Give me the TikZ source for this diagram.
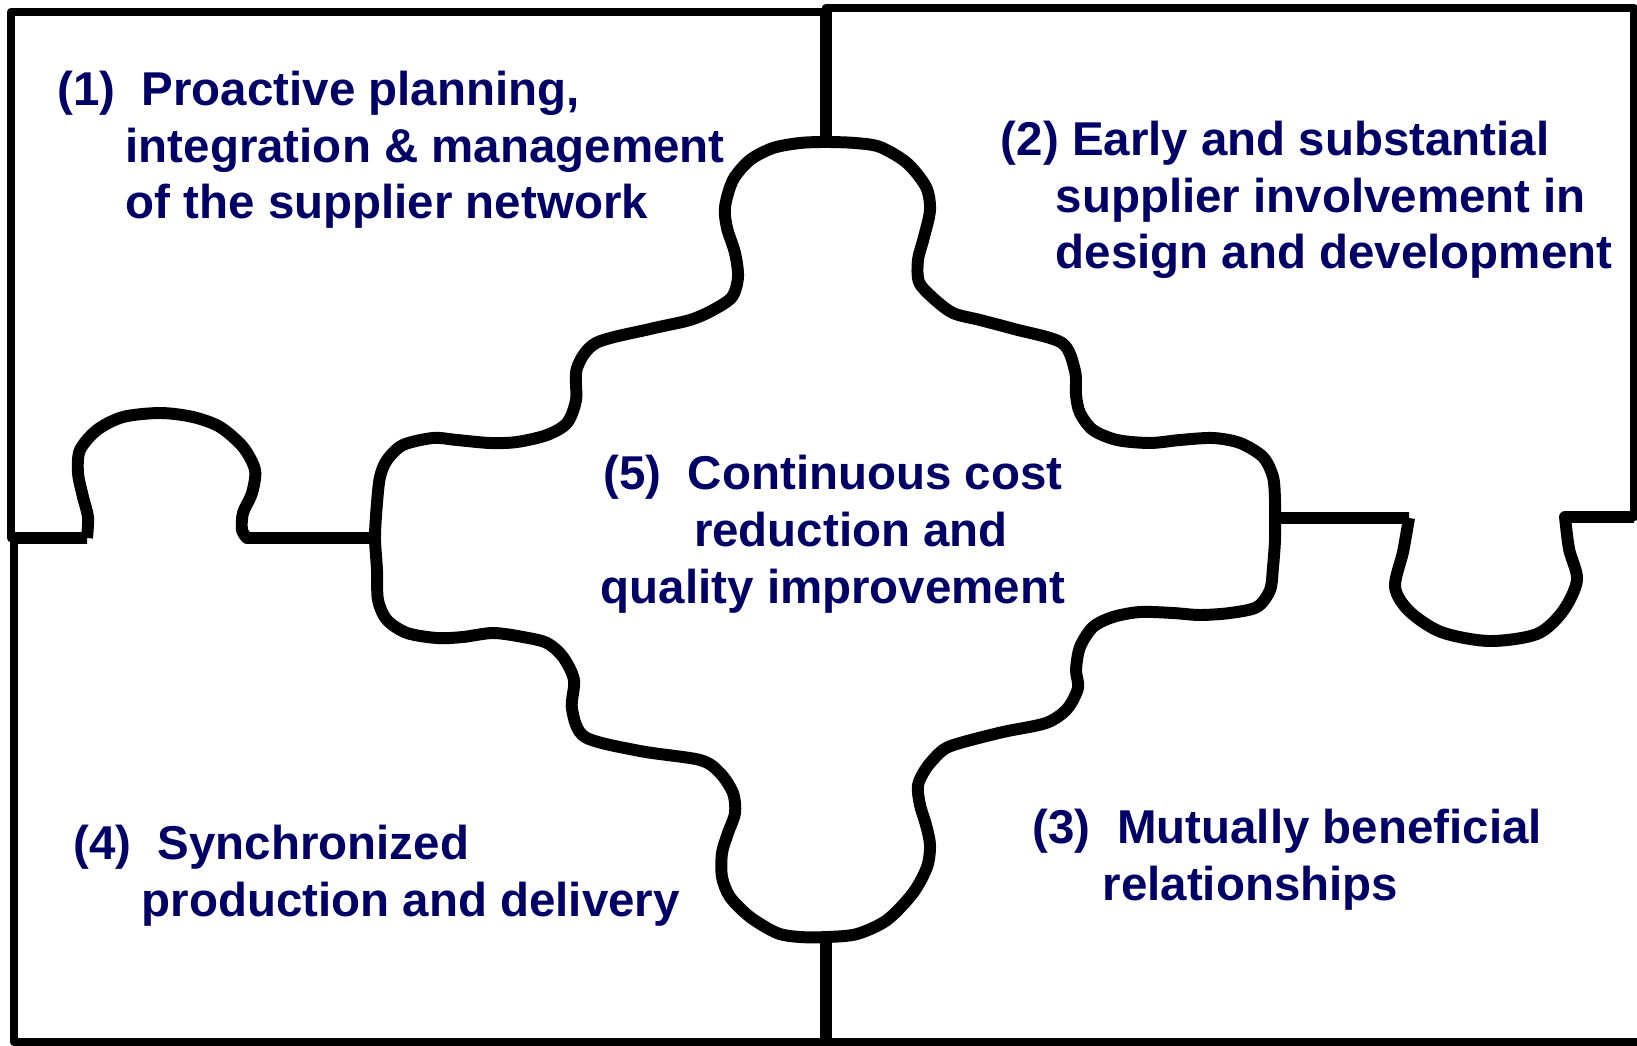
\documentclass[tikz,border=0pt]{standalone}
\usepackage{fontspec}
\setmainfont{Liberation Sans}
\usepackage{tikz}
\usetikzlibrary{positioning}
\definecolor{navytext}{RGB}{0,0,102}

\begin{document}
\begin{tikzpicture}[
		x=0.01cm, y=-0.01cm,
		frameline/.style={line width=2.4pt, line cap=round, line join=round},
		seamline/.style={line width=3.3pt},
		piece/.style={line width=3.4pt, line join=round},
		piecetext/.style={anchor=base west, inner sep=0pt, align=left, text=navytext,
			font=\fontsize{13.5}{16.2}\selectfont\bfseries}
		]
	\useasboundingbox (0,0) rectangle (1637,1046);

	% outer frame of the four corner pieces
	\coordinate (TL) at (11,12);
	\coordinate (TM) at (826,12);
	\coordinate (TMr) at (826,8);
	\coordinate (TR) at (1634,8);
	\coordinate (RM) at (1634,517);
	\coordinate (LM) at (11,538);
	\coordinate (BL) at (14,1042);
	\coordinate (BR) at (1637,1042);
	\coordinate (BM) at (826,1042);

	\draw[frameline] (LM) -- (TL) -- (TM);
	\draw[frameline] (TMr) -- (TR) -- (RM);
	\draw[frameline] (14,538) -- (BL) -- (BR);

	% centre piece
	\draw[piece] plot[smooth cycle, tension=0.5] coordinates {
		(826,142) (855,143) (880,147) (907,163) (926,187) (930,210) (924,237)
		(918,260) (919,282) (933,298) (953,313) (980,320) (1014,329) (1062,343)
		(1075,371) (1076,395) (1080,413) (1093,430) (1117,440) (1150,443)
		(1180,440) (1213,438) (1240,443) (1263,457) (1273,477) (1275,500)
		(1275,518) (1275,540) (1273,567) (1270,590) (1257,607) (1230,613)
		(1200,615) (1173,613) (1140,612) (1113,617) (1093,627) (1080,647)
		(1076,670) (1078,688) (1067,709) (1046,723) (1003,732) (960,743)
		(943,750) (927,767) (918,785) (920,805) (926,825) (930,845) (927,867)
		(913,893) (887,920) (857,934) (827,937) (800,937) (777,933) (750,917)
		(730,897) (722,877) (722,853) (728,833) (735,813) (733,793) (720,773)
		(700,760) (640,751) (585,737) (572,709) (574,680) (563,657) (547,643)
		(523,637) (493,633) (463,637) (437,638) (407,633) (387,620) (378,600)
		(377,570) (375,537) (377,503) (380,477) (387,460) (403,445) (433,438)
		(457,440) (490,443) (517,442) (547,435) (567,423) (576,400) (577,368)
		(596,343) (650,329) (690,320) (713,310) (732,297) (738,277) (735,253)
		(727,228) (725,207) (733,180) (750,160) (773,148) (800,143)};

	% seams between the corner pieces
	\coordinate (Ctop) at (826,142);
	\coordinate (Cbot) at (826,937);
	\coordinate (Cleft) at (375,538);
	\coordinate (Cright) at (1275,518);
	\draw[seamline] (TMr) -- (Ctop);
	\draw[seamline] (Cbot) -- (BM);

	% left knob
	\draw[piece] (LM) -- (87,538)
		plot[smooth, tension=0.5] coordinates {(87,538) (88,517) (83,497) (78,473)
			(80,450) (97,430) (123,417) (160,413) (193,417) (220,427) (243,447)
			(255,470) (252,493) (243,513) (242,530) (247,538)}
		-- (Cleft);

	% right knob
	\draw[piece] (Cright) -- (1409,518)
		plot[smooth, tension=0.5] coordinates {(1409,518) (1403,552) (1395,587)
			(1409,611) (1441,632) (1489,641) (1537,634) (1563,611) (1577,580)
			(1569,549) (1565,517)}
		-- (RM);

	% texts
	\node[piecetext] (T1) at (125,219) {\hspace*{-19.4pt}(1)\ \ Proactive planning,\\integration \& management\\of the supplier network};
	\node[piecetext] (T2) at (1055,269) {\hspace*{-15.6pt}(2) Early and substantial\\supplier involvement in\\design and development};
	\node[piecetext] (T3) at (1102,900) {\hspace*{-19.9pt}(3)\ \ Mutually beneficial\\relationships};
	\node[piecetext] (T4) at (141,916) {\hspace*{-19.4pt}(4)\ \ Synchronized\\production and delivery};
	\node[piecetext, anchor=base, align=center] (T5) at (833,603) {(5)\ \ Continuous cost\\\hspace*{10.2pt}reduction and\\quality improvement};

\end{tikzpicture}
\end{document}
